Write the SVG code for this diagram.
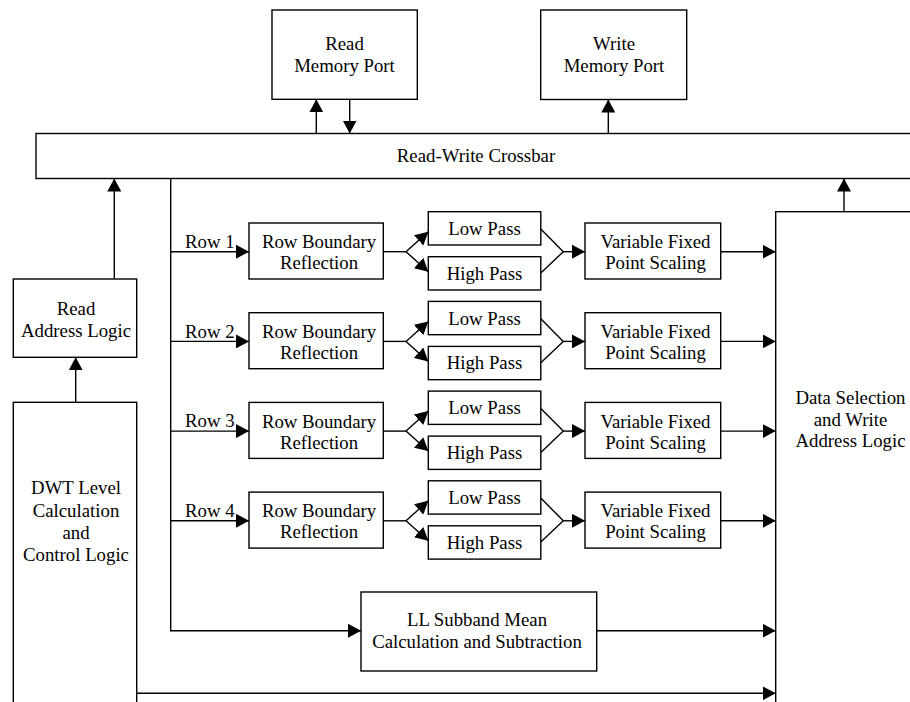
<svg xmlns="http://www.w3.org/2000/svg" width="910" height="702" viewBox="0 0 910 702">
<style>
.box{fill:#fff;stroke:#000;stroke-width:1.4}
.ln{fill:none;stroke:#000;stroke-width:1.4}
.arr{fill:none;stroke:#000;stroke-width:1.4;marker-end:url(#ah)}
text{font-family:"Liberation Serif","Times New Roman",serif;font-size:18.8px;fill:#000;text-anchor:middle}
.lbl{text-anchor:start}
</style>
<defs>
<marker id="ah" markerUnits="userSpaceOnUse" markerWidth="13" markerHeight="14" viewBox="0 0 13 14" refX="13" refY="7" orient="auto">
<path d="M0,0 L13,7 L0,14 z" fill="#000"/>
</marker>
</defs>
<rect width="910" height="702" fill="#fff"/>

<g id="connectors">
<line class="arr" x1="316.3" y1="133.5" x2="316.3" y2="99.3"/>
<line class="arr" x1="349.7" y1="99.3" x2="349.7" y2="133.5"/>
<line class="arr" x1="608.3" y1="133.5" x2="608.3" y2="99.5"/>
<line class="arr" x1="114.3" y1="279" x2="114.3" y2="178.5"/>
<line class="arr" x1="75.7" y1="402.3" x2="75.7" y2="357.3"/>
<line class="arr" x1="844" y1="211.7" x2="844" y2="178.5"/>
<path class="arr" d="M170.7,178.5 V630.7 H361"/>
<line class="arr" x1="596.7" y1="630.7" x2="775.7" y2="630.7"/>
<line class="arr" x1="136.7" y1="693.3" x2="775.7" y2="693.3"/>
<g id="row-conn-1">
<line class="arr" x1="170.7" y1="251.7" x2="249" y2="251.7"/>
<line class="ln" x1="383.3" y1="251.7" x2="406" y2="251.7"/>
<line class="arr" x1="406" y1="251.7" x2="428.3" y2="231.7"/>
<line class="arr" x1="406" y1="251.7" x2="428.3" y2="271.7"/>
<polyline class="ln" points="540.8,229 563.3,251.7 540.8,273"/>
<line class="arr" x1="563.3" y1="251.7" x2="585" y2="251.7"/>
<line class="arr" x1="720.7" y1="251.7" x2="775.7" y2="251.7"/>
</g>
<g id="row-conn-2">
<line class="arr" x1="170.7" y1="341.4" x2="249" y2="341.4"/>
<line class="ln" x1="383.3" y1="341.4" x2="406" y2="341.4"/>
<line class="arr" x1="406" y1="341.4" x2="428.3" y2="321.4"/>
<line class="arr" x1="406" y1="341.4" x2="428.3" y2="361.4"/>
<polyline class="ln" points="540.8,318.7 563.3,341.4 540.8,362.7"/>
<line class="arr" x1="563.3" y1="341.4" x2="585" y2="341.4"/>
<line class="arr" x1="720.7" y1="341.4" x2="775.7" y2="341.4"/>
</g>
<g id="row-conn-3">
<line class="arr" x1="170.7" y1="431.1" x2="249" y2="431.1"/>
<line class="ln" x1="383.3" y1="431.1" x2="406" y2="431.1"/>
<line class="arr" x1="406" y1="431.1" x2="428.3" y2="411.1"/>
<line class="arr" x1="406" y1="431.1" x2="428.3" y2="451.1"/>
<polyline class="ln" points="540.8,408.4 563.3,431.1 540.8,452.4"/>
<line class="arr" x1="563.3" y1="431.1" x2="585" y2="431.1"/>
<line class="arr" x1="720.7" y1="431.1" x2="775.7" y2="431.1"/>
</g>
<g id="row-conn-4">
<line class="arr" x1="170.7" y1="520.8" x2="249" y2="520.8"/>
<line class="ln" x1="383.3" y1="520.8" x2="406" y2="520.8"/>
<line class="arr" x1="406" y1="520.8" x2="428.3" y2="500.8"/>
<line class="arr" x1="406" y1="520.8" x2="428.3" y2="540.8"/>
<polyline class="ln" points="540.8,498.1 563.3,520.8 540.8,542.1"/>
<line class="arr" x1="563.3" y1="520.8" x2="585" y2="520.8"/>
<line class="arr" x1="720.7" y1="520.8" x2="775.7" y2="520.8"/>
</g>
</g>

<g id="read-port"><rect class="box" x="272" y="10" width="145.3" height="89.3"/><text x="344.5" y="50">Read</text><text x="344.5" y="71.7">Memory Port</text></g>
<g id="write-port"><rect class="box" x="540.7" y="10" width="146" height="89.5"/><text x="614" y="50">Write</text><text x="614" y="71.7">Memory Port</text></g>
<g id="crossbar"><rect class="box" x="36" y="133.5" width="890" height="45"/><text x="476" y="162">Read-Write Crossbar</text></g>
<g id="read-addr"><rect class="box" x="13.3" y="279" width="123.4" height="78.3"/><text x="76" y="315">Read</text><text x="76" y="336.7">Address Logic</text></g>
<g id="dwt"><rect class="box" x="13.3" y="402.3" width="123.4" height="320"/><text x="76" y="494">DWT Level</text><text x="76" y="516.5">Calculation</text><text x="76" y="539">and</text><text x="76" y="561">Control Logic</text></g>
<g id="data-sel"><rect class="box" x="775.7" y="211.7" width="200" height="520"/><text x="850.5" y="404">Data Selection</text><text x="850.5" y="426">and Write</text><text x="850.5" y="447">Address Logic</text></g>
<g id="ll"><rect class="box" x="361" y="592" width="235.7" height="79"/><text x="477" y="626">LL Subband Mean</text><text x="477" y="648">Calculation and Subtraction</text></g>

<g id="row1">
<text class="lbl" x="185" y="248">Row 1</text>
<rect class="box" x="249" y="223" width="134.3" height="56"/><text x="319" y="248.2">Row Boundary</text><text x="319" y="269.2">Reflection</text>
<rect class="box" x="428.3" y="211.7" width="112.5" height="33.3"/><text x="484.5" y="235">Low Pass</text>
<rect class="box" x="428.3" y="256.7" width="112.5" height="33.3"/><text x="484.5" y="279.5">High Pass</text>
<rect class="box" x="585" y="223" width="135.7" height="56"/><text x="655.5" y="248.2">Variable Fixed</text><text x="655.5" y="269.2">Point Scaling</text>
</g>
<g id="row2">
<text class="lbl" x="185" y="337.7">Row 2</text>
<rect class="box" x="249" y="312.7" width="134.3" height="56"/><text x="319" y="337.9">Row Boundary</text><text x="319" y="358.9">Reflection</text>
<rect class="box" x="428.3" y="301.4" width="112.5" height="33.3"/><text x="484.5" y="324.7">Low Pass</text>
<rect class="box" x="428.3" y="346.4" width="112.5" height="33.3"/><text x="484.5" y="369.2">High Pass</text>
<rect class="box" x="585" y="312.7" width="135.7" height="56"/><text x="655.5" y="337.9">Variable Fixed</text><text x="655.5" y="358.9">Point Scaling</text>
</g>
<g id="row3">
<text class="lbl" x="185" y="427.4">Row 3</text>
<rect class="box" x="249" y="402.4" width="134.3" height="56"/><text x="319" y="427.6">Row Boundary</text><text x="319" y="448.6">Reflection</text>
<rect class="box" x="428.3" y="391.1" width="112.5" height="33.3"/><text x="484.5" y="414.4">Low Pass</text>
<rect class="box" x="428.3" y="436.1" width="112.5" height="33.3"/><text x="484.5" y="458.9">High Pass</text>
<rect class="box" x="585" y="402.4" width="135.7" height="56"/><text x="655.5" y="427.6">Variable Fixed</text><text x="655.5" y="448.6">Point Scaling</text>
</g>
<g id="row4">
<text class="lbl" x="185" y="517.1">Row 4</text>
<rect class="box" x="249" y="492.1" width="134.3" height="56"/><text x="319" y="517.3">Row Boundary</text><text x="319" y="538.3">Reflection</text>
<rect class="box" x="428.3" y="480.8" width="112.5" height="33.3"/><text x="484.5" y="504.1">Low Pass</text>
<rect class="box" x="428.3" y="525.8" width="112.5" height="33.3"/><text x="484.5" y="548.6">High Pass</text>
<rect class="box" x="585" y="492.1" width="135.7" height="56"/><text x="655.5" y="517.3">Variable Fixed</text><text x="655.5" y="538.3">Point Scaling</text>
</g>
</svg>
